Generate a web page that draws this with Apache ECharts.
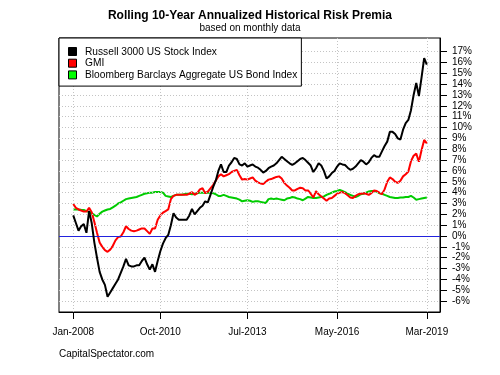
<!DOCTYPE html>
<html>
<head>
<meta charset="utf-8">
<script src="https://cdn.jsdelivr.net/npm/echarts@6/dist/echarts.min.js"></script>
<style>
  html, body { margin: 0; padding: 0; background: #fff; }
  #main { width: 500px; height: 375px; }
</style>
</head>
<body>
<div id="main"></div>
<script>
// monthly values, Jan-2008 .. Mar-2019 (index 0..134), in %
const russell = [1.9,1.2,0.5,0.9,1.1,0.3,2.3,1.2,-0.6,-2.0,
  -3.3,-4.0,-4.5,-5.6,-5.2,-4.8,-4.4,-4.0,-3.4,-2.8,
  -2.1,-2.7,-2.8,-2.8,-2.7,-2.7,-2.3,-2.0,-2.6,-3.1,
  -2.6,-3.3,-2.3,-1.4,-0.7,-0.2,0.1,1.0,2.1,1.7,
  1.5,1.5,1.5,1.5,1.9,2.5,2.0,2.3,2.6,2.8,
  3.2,3.1,3.8,4.5,5.1,6.0,6.6,5.9,5.9,6.5,
  6.8,7.2,7.1,6.6,6.5,6.7,6.4,6.5,6.6,6.4,
  6.3,6.1,5.85,6.0,6.25,6.4,6.5,6.7,7.0,7.3,
  7.1,6.9,6.7,6.55,6.7,6.9,7.1,7.2,7.0,6.75,
  6.5,5.9,6.25,6.7,6.5,6.0,5.3,5.5,5.8,6.0,
  6.4,6.7,6.6,6.55,6.3,6.1,6.2,6.4,6.7,7.0,
  6.85,6.6,6.8,7.2,7.45,7.3,7.3,7.8,8.3,8.7,
  9.6,9.6,9.4,9.0,8.9,9.8,10.4,10.7,11.6,13.0,
  14.1,12.9,14.6,16.4,15.8]
const gmi = [2.95,2.6,2.45,2.35,2.25,2.25,2.6,2.2,1.3,0.3,
  -0.6,-1.0,-1.3,-1.45,-1.25,-0.9,-0.4,-0.1,-0.05,0.35,
  0.9,0.65,0.5,0.45,0.5,0.6,0.7,0.7,0.45,0.2,
  0.7,0.7,1.5,1.9,2.15,2.3,2.45,3.4,3.7,3.8,
  3.8,3.8,3.8,3.8,3.9,4.05,3.8,3.95,4.3,4.4,
  3.95,4.1,4.4,4.7,5.1,5.5,5.7,5.5,5.6,5.7,
  5.9,6.0,6.1,5.6,5.2,5.25,5.2,5.3,5.4,5.1,
  4.95,4.85,4.8,5.0,5.2,5.25,5.35,5.45,5.5,5.3,
  4.9,4.65,4.45,4.2,4.2,4.35,4.45,4.4,4.2,4.2,
  3.9,3.55,4.15,3.85,3.65,3.45,3.25,3.45,3.5,3.7,
  3.9,4.0,4.05,3.95,3.75,3.55,3.5,3.7,3.85,3.9,
  3.95,3.9,3.8,3.95,4.2,4.15,4.0,3.85,4.3,5.0,
  5.4,5.25,5.0,4.9,5.1,5.5,5.7,5.95,6.9,7.4,
  7.6,6.85,7.9,8.85,8.55]
const bonds = [2.45,2.45,2.45,2.42,2.4,2.3,2.2,2.1,1.95,1.8,
  2.05,2.25,2.35,2.45,2.5,2.65,2.8,3.0,3.1,3.25,
  3.4,3.45,3.5,3.55,3.6,3.7,3.8,3.9,3.95,4.0,
  4.0,4.05,4.05,4.05,4.0,3.7,3.65,3.6,3.7,3.8,
  3.8,3.8,3.85,3.9,3.9,3.85,3.9,3.95,4.0,4.0,
  4.0,4.0,4.0,3.95,3.85,3.7,3.7,3.8,3.7,3.6,
  3.55,3.5,3.45,3.35,3.2,3.25,3.3,3.25,3.15,3.2,
  3.2,3.15,3.1,3.05,3.4,3.45,3.4,3.45,3.4,3.35,
  3.3,3.45,3.5,3.6,3.55,3.45,3.4,3.3,3.45,3.6,
  3.55,3.5,3.5,3.55,3.6,3.65,3.8,3.9,4.0,4.1,
  4.15,4.25,4.15,4.05,3.9,3.8,3.7,3.6,3.7,3.85,
  3.9,4.0,4.1,4.15,4.15,4.1,3.95,3.9,3.8,3.7,
  3.6,3.55,3.5,3.5,3.55,3.55,3.6,3.6,3.7,3.55,
  3.35,3.4,3.45,3.5,3.55]

const seriesNames = ['Russell 3000 US Stock Index', 'GMI', 'Bloomberg Barclays Aggregate US Bond Index']
const legendColors = ['#000', '#ff0000', '#00ff00']
const xTickMonths = [0, 33, 66, 100, 134]
const xTickLabels = ['Jan-2008', 'Oct-2010', 'Jul-2013', 'May-2016', 'Mar-2019']
const yTicks = [-6,-5,-4,-3,-2,-1,0,1,2,3,4,5,6,7,8,9,10,11,12,13,14,15,16,17]

const font = 'Liberation Sans, Arial, sans-serif'
const gridStyle = { color: '#c4c4c4', type: [1, 2], width: 1 }

function pairs(arr) {
  return arr.map((v, i) => [i, v])
}

function lineSeries(name, values, color, z) {
  return {
    name: name,
    type: 'line',
    data: pairs(values),
    symbol: 'none',
    showSymbol: false,
    silent: true,
    z: z,
    lineStyle: { color: color, width: 2, type: 'solid' },
    itemStyle: { color: color }
  }
}

// legend swatches: filled squares with a thin black edge, one per legend row
const swatches = legendColors.map((c, k) => ({
  type: 'rect',
  z: 100,
  shape: { x: 68.5, y: 47.5 + k * 11.7, width: 8, height: 8 },
  style: { fill: c, stroke: '#000', lineWidth: 1 }
}))

const chart = echarts.init(document.getElementById('main'))

const option = {
  animation: false,
  backgroundColor: '#fff',
  textStyle: { fontFamily: font },
  title: {
    text: 'Rolling 10-Year Annualized Historical Risk Premia',
    subtext: 'based on monthly data',
    left: 'center',
    top: 5,
    itemGap: 1,
    textStyle: { fontSize: 12, fontWeight: 'bold', color: '#000', fontFamily: font },
    subtextStyle: { fontSize: 10, color: '#000', fontFamily: font }
  },
  legend: {
    orient: 'vertical',
    left: 59,
    top: 38,
    z: 10,
    padding: [8, 4, 5, 9],
    itemGap: 0,
    itemWidth: 9,
    itemHeight: 9,
    icon: 'rect',
    backgroundColor: '#fff',
    borderColor: '#000',
    borderWidth: 1,
    borderRadius: 0,
    selectedMode: false,
    itemStyle: { color: '#fff', borderWidth: 0, opacity: 0 },
    textStyle: { fontSize: 10.2, color: '#000', fontFamily: font, lineHeight: 11.7, padding: [0, 0, 0, 3] },
    data: seriesNames
  },
  grid: {
    left: 59,
    top: 38,
    width: 381,
    height: 274,
    show: true,
    borderColor: '#000',
    borderWidth: 1,
    backgroundColor: 'transparent'
  },
  xAxis: {
    type: 'value',
    min: -5.4,
    max: 139,
    axisLine: { show: true, onZero: false, lineStyle: { color: '#000' } },
    axisTick: { show: true, length: 7, customValues: xTickMonths, lineStyle: { color: '#000' } },
    axisLabel: {
      customValues: xTickMonths,
      margin: 15,
      fontSize: 10,
      color: '#000',
      fontFamily: font,
      formatter: v => xTickLabels[xTickMonths.indexOf(v)] || ''
    },
    splitLine: { show: false }
  },
  yAxis: {
    type: 'value',
    position: 'right',
    min: -7,
    max: 18.25,
    axisLine: { show: true, onZero: false, lineStyle: { color: '#000' } },
    axisTick: { show: true, length: 7, customValues: yTicks, lineStyle: { color: '#000' } },
    axisLabel: {
      customValues: yTicks,
      margin: 12,
      fontSize: 10,
      color: '#000',
      fontFamily: font,
      formatter: v => v + '%'
    },
    splitLine: { show: false }
  },
  graphic: [{
    type: 'text',
    left: 59,
    top: 349,
    style: { text: 'CapitalSpectator.com', fontSize: 10, fill: '#000', fontFamily: font }
  }].concat(swatches),
  series: [
    {
      name: 'grid',
      type: 'line',
      data: [],
      silent: true,
      z: 1,
      markLine: {
        silent: true,
        symbol: 'none',
        label: { show: false },
        animation: false,
        lineStyle: gridStyle,
        data: yTicks.filter(v => v !== 0).map(v => ({ yAxis: v }))
          .concat(xTickMonths.map(m => ({ xAxis: m })))
          .concat([{ yAxis: 0, lineStyle: { color: '#2222dd', type: 'solid', width: 1 } }])
      }
    },
    lineSeries(seriesNames[2], bonds, '#00cc00', 3),
    lineSeries(seriesNames[1], gmi, '#ff0000', 4),
    lineSeries(seriesNames[0], russell, '#000', 5)
  ]
}

chart.setOption(option)
</script>
</body>
</html>
